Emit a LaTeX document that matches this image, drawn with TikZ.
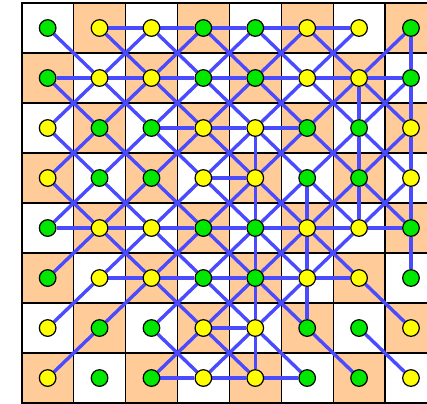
\documentclass[tikz,border=0pt]{standalone}

\definecolor{peach}{RGB}{255,204,153}
\definecolor{linkblue}{RGB}{74,74,255}
\definecolor{kgreen}{RGB}{0,232,0}
\definecolor{kyellow}{RGB}{255,255,0}

\pgfdeclarelayer{board}
\pgfdeclarelayer{links}
\pgfsetlayers{board,links,main}

\begin{document}
\begin{tikzpicture}[x=25.95pt, y=-25pt,
  link/.style={draw=linkblue, line width=1.7pt},
  cell/.style={fill=peach},
  gnode/.style={circle, draw=black, line width=0.6pt, fill=kgreen, minimum size=8.3pt, inner sep=0pt},
  ynode/.style={circle, draw=black, line width=0.6pt, fill=kyellow, minimum size=8.3pt, inner sep=0pt}]

% picture frame (board is cut on the right)
\useasboundingbox (-0.418,-0.06) rectangle (7.809,8.0);
\clip (-0.418,-0.06) rectangle (7.809,8.0);

% checkerboard
\begin{pgfonlayer}{board}
\foreach \r in {1,...,8}
  \foreach \c in {1,...,8} {
    \pgfmathtruncatemacro\odd{mod(\r+\c,2)}
    \ifnum\odd=1 \fill[cell] (\c-1,\r-1) rectangle (\c,\r); \fi
  }
\foreach \i in {1,...,7} {
  \draw[black, line width=0.6pt] (\i,0) -- (\i,8);
  \draw[black, line width=0.6pt] (0,\i) -- (8,\i);
}
\draw[black, line width=1pt] (0,0) rectangle (8,8);
\end{pgfonlayer}

% pieces: green or yellow in 2x2 bands
\foreach \r in {1,...,8}
  \foreach \c in {1,...,8} {
    \pgfmathtruncatemacro\k{mod(floor(\c/2)+floor((\r-1)/2),2)}
    \ifnum\k=0
      \node[gnode] (n\r\c) at (\c-0.5,\r-0.5) {};
    \else
      \node[ynode] (n\r\c) at (\c-0.5,\r-0.5) {};
    \fi
  }

\begin{pgfonlayer}{links}
% horizontal links
\foreach \a/\b in {n12/n13,n13/n14,n14/n15,n15/n16,n16/n17,
  n21/n22,n22/n23,n23/n24,n24/n25,n25/n26,n26/n27,n27/n28,
  n33/n34,n34/n35,n35/n36, n44/n45,
  n51/n52,n52/n53,n53/n54,n54/n55,n55/n56,n56/n57,n57/n58,
  n62/n63,n63/n64,n64/n65,n65/n66,n66/n67, n74/n75,
  n83/n84,n84/n85,n85/n86}
  \draw[link] (\a) -- (\b);
% vertical links
\foreach \a/\b in {n27/n37,n37/n47,n47/n57,
  n18/n28,n28/n38,n38/n48,n48/n58,n58/n68,
  n35/n45,n45/n55,n55/n65,n65/n75,n75/n85,
  n46/n56,n56/n66,n66/n76}
  \draw[link] (\a) -- (\b);
% diagonal links
\foreach \a/\b in {n11/n22,n12/n23,n13/n24,n14/n25,n15/n26,n16/n27,
  n13/n22,n14/n23,n15/n24,n16/n25,n17/n26,n18/n27,
  n21/n32,n22/n33,n23/n34,n24/n35,n25/n36,n26/n37,n27/n38,
  n22/n31,n23/n32,n24/n33,n25/n34,n26/n35,n27/n36,n28/n37,
  n31/n42,n32/n43,n33/n44,n34/n45,n35/n46,n36/n47,n37/n48,
  n32/n41,n33/n42,n34/n43,n35/n44,n36/n45,n37/n46,n38/n47,
  n41/n52,n42/n53,n43/n54,n44/n55,n45/n56,n46/n57,n47/n58,
  n42/n51,n43/n52,n44/n53,n45/n54,n46/n55,n47/n56,n48/n57,
  n52/n63,n53/n64,n54/n65,n55/n66,n56/n67,
  n52/n61,n53/n62,n54/n63,n55/n64,n56/n65,n57/n66,
  n63/n74,n64/n75,n65/n76,n67/n78,
  n62/n71,n63/n72,n64/n73,n65/n74,n66/n75,
  n73/n84,n74/n85,n75/n86,n76/n87,n77/n88,
  n72/n81,n74/n83,n75/n84}
  \draw[link] (\a) -- (\b);
\end{pgfonlayer}

\end{tikzpicture}
\end{document}
